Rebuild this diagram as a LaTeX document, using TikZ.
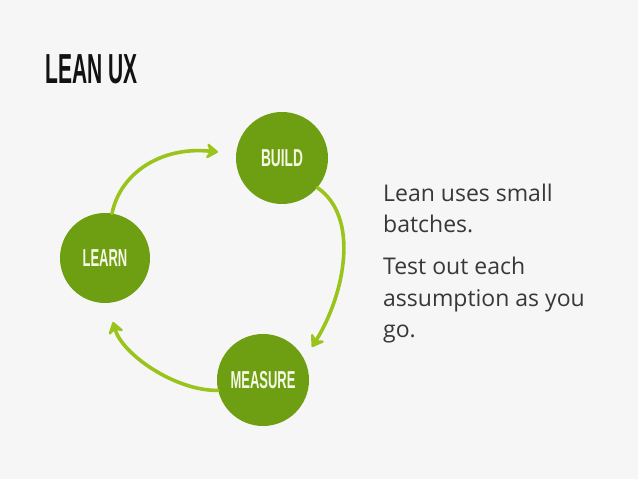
\documentclass[tikz,border=0pt]{standalone}
\usepackage{fontspec}
\setmainfont{Open Sans}
\newfontfamily\headfont{Liberation Sans}
\usetikzlibrary{arrows.meta}
\definecolor{bg}{HTML}{F6F6F6}
\definecolor{circ}{HTML}{6E9E12}
\definecolor{arr}{HTML}{9AC41C}
\definecolor{ink}{HTML}{383838}
\definecolor{lbl}{HTML}{F4F8E4}
\tikzset{
  stage/.style={circle, fill=circ, minimum size=#1, inner sep=0pt},
  stagelabel/.style={text=lbl, font=\headfont\bfseries\fontsize{24.5}{25}\selectfont},
  cyclearrow/.style={draw=arr, line width=3.6pt, line cap=round,
     -{Stealth[length=14pt,width=19pt,inset=5pt,round]}},
  bodytext/.style={text=ink, anchor=base west, inner sep=0pt, font=\fontsize{23}{28}\selectfont},
}
\newcommand{\narrow}[2]{\scalebox{#1}[1]{#2}}
\begin{document}
\begin{tikzpicture}[x=1pt,y=1pt]
\fill[bg] (0,0) rectangle (638,479);
\useasboundingbox (0,0) rectangle (638,479);
% title
\node[anchor=base west, inner sep=0pt, text=black!93, font=\headfont\bfseries\fontsize{42}{42}\selectfont] (title) at (45,395) {\narrow{0.5}{LEAN UX}};
% circles
\node[stage=92pt] (build) at (282,321) {};
\node[stage=90pt] (learn) at (105,221) {};
\node[stage=92pt] (measure) at (263,99) {};
\node[stagelabel] (buildlbl) at (build.center) {\narrow{0.56}{BUILD}};
\node[stagelabel] (learnlbl) at (learn.center) {\narrow{0.53}{LEARN}};
\node[stagelabel] (measurelbl) at (measure.center) {\narrow{0.53}{MEASURE}};
% arrow end points
\coordinate (tip1) at (218,327);
\coordinate (tip2) at (312,132);
\coordinate (tip3) at (113,157);
\draw[cyclearrow] (learn.81) .. controls (120,305) and (160,333) .. (tip1);
\draw[cyclearrow] (build.-40) .. controls (360,262) and (345,185) .. (tip2);
\draw[cyclearrow] (measure.193) .. controls (175,88) and (122,125) .. (tip3);
% body text
\node[bodytext] (t1) at (383,277) {Lean uses small};
\node[bodytext] (t2) at (383,246) {batches.};
\node[bodytext] (t3) at (383,204) {Test out each};
\node[bodytext] (t4) at (383,172) {assumption as you};
\node[bodytext] (t5) at (383,141) {go.};
\end{tikzpicture}
\end{document}
